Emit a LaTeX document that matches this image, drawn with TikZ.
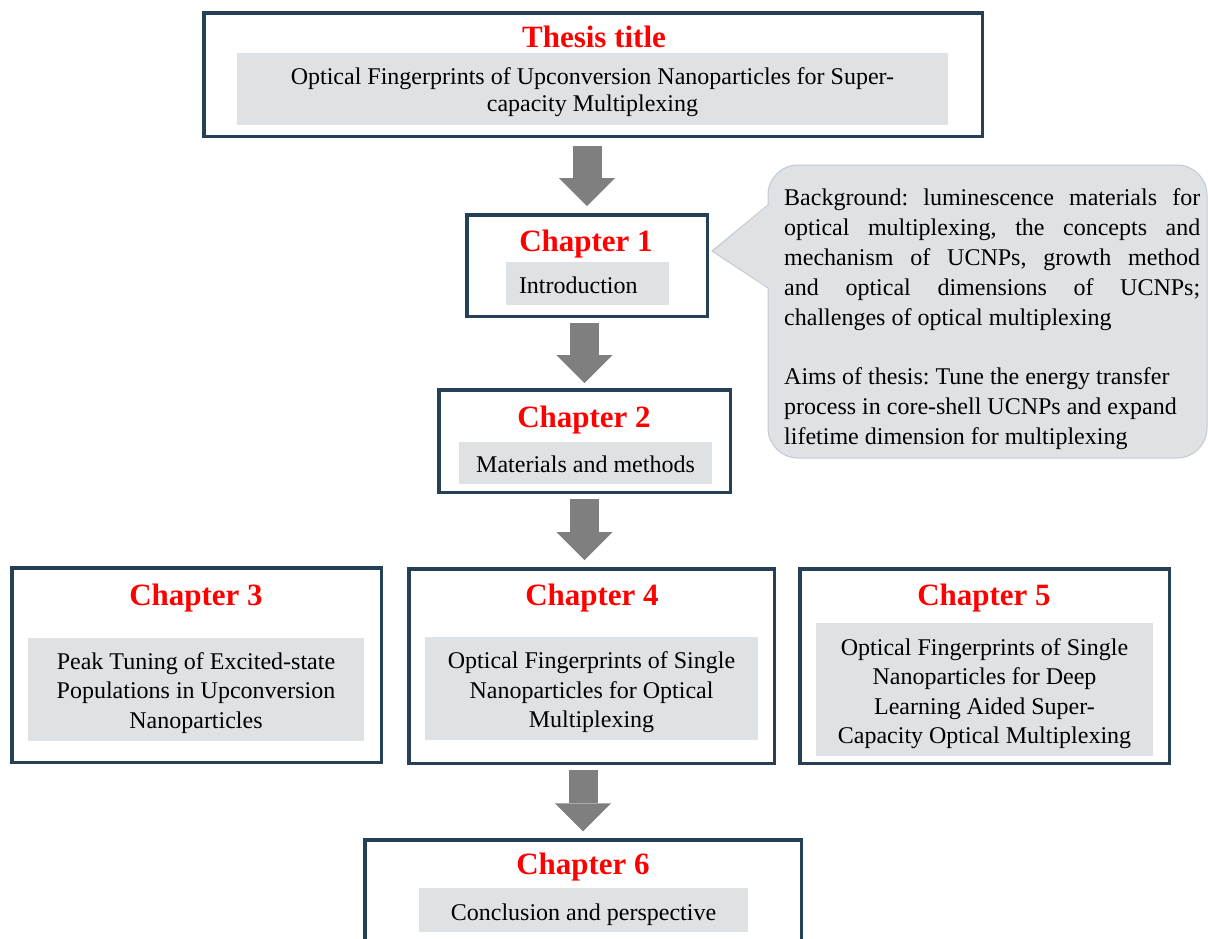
\documentclass[tikz,border=0pt]{standalone}
\usepackage{fontspec}
\setmainfont{Liberation Serif}
\usetikzlibrary{arrows.meta,calc}
\definecolor{boxline}{RGB}{38,64,86}
\definecolor{panel}{RGB}{223,226,229}
\definecolor{notefill}{RGB}{223,226,229}
\definecolor{noteline}{RGB}{196,201,207}
\definecolor{arrowgray}{RGB}{127,127,127}
\definecolor{headred}{RGB}{255,0,0}
\begin{document}
\frenchspacing
\begin{tikzpicture}[x=1pt,y=-1pt,
  chapbox/.style={draw=boxline, line width=3.5pt, inner sep=0pt, rectangle},
  panelbox/.style={fill=panel, inner sep=0pt},
  paneltext/.style={inner sep=0pt, align=center, font=\fontsize{24}{29.5}\selectfont},
  heading/.style={text=headred, font=\bfseries\fontsize{31}{31}\selectfont, inner sep=0pt, anchor=base},
  blockarrow/.style={draw=arrowgray, line width=29pt, -{Triangle[length=28pt,width=56pt,line width=0pt]}},
  notebox/.style={fill=notefill, draw=noteline, line width=1pt, rounded corners=30pt, inner sep=0pt}
]
\useasboundingbox (0,0) rectangle (1208,938);
\clip (0,0) rectangle (1208,938);
\fill[white] (0,0) rectangle (1208,938);

% chapter boxes
\node[chapbox, minimum width=778.5pt, minimum height=123.5pt] (title) at (593,74.5) {};
\node[chapbox, minimum width=240.5pt, minimum height=101.5pt] (ch1) at (587,265.5) {};
\node[chapbox, minimum width=291.5pt, minimum height=102.5pt] (ch2) at (584.5,441) {};
\node[chapbox, minimum width=369.5pt, minimum height=194.5pt] (ch3) at (196.5,665) {};
\node[chapbox, minimum width=365.5pt, minimum height=194.5pt] (ch4) at (591.5,666) {};
\node[chapbox, minimum width=369.5pt, minimum height=194.5pt] (ch5) at (984.5,666) {};
\node[chapbox, minimum width=436.5pt, minimum height=140pt] (ch6) at (583,910) {};

% grey panels
\node[panelbox, minimum width=711pt, minimum height=72pt] (title-p) at (592.5,89) {};
\node[panelbox, minimum width=163pt, minimum height=43pt] (ch1-p) at (587.5,283.5) {};
\node[panelbox, minimum width=253pt, minimum height=42pt] (ch2-p) at (585.5,463) {};
\node[panelbox, minimum width=336pt, minimum height=103pt] (ch3-p) at (196,689.5) {};
\node[panelbox, minimum width=333pt, minimum height=103pt] (ch4-p) at (591.5,688.5) {};
\node[panelbox, minimum width=337pt, minimum height=133pt] (ch5-p) at (984.5,689.5) {};
\node[panelbox, minimum width=329pt, minimum height=44pt] (ch6-p) at (583.5,910) {};

% panel texts
\node[paneltext, font=\fontsize{24}{27}\selectfont] (title-t) at ($(title-p.center)+(0,3)$)
  {Optical Fingerprints of Upconversion Nanoparticles for Super-\\capacity Multiplexing};
\node[paneltext, anchor=west] (ch1-t) at ($(ch1-p.west)+(13,2)$) {Introduction};
\node[paneltext] (ch2-t) at ($(ch2-p.center)+(0,1)$) {Materials and methods};
\node[paneltext] (ch3-t) at ($(ch3-p.center)+(0,3.5)$)
  {Peak Tuning of Excited-state\\Populations in Upconversion\\Nanoparticles};
\node[paneltext] (ch4-t) at ($(ch4-p.center)+(0,4)$)
  {Optical Fingerprints of Single\\Nanoparticles for Optical\\Multiplexing};
\node[paneltext] (ch5-t) at ($(ch5-p.center)+(0,4)$)
  {Optical Fingerprints of Single\\Nanoparticles for Deep\\Learning Aided Super-\\Capacity Optical Multiplexing};
\node[paneltext] (ch6-t) at ($(ch6-p.center)+(0,4.5)$) {Conclusion and perspective};

% headings
\node[heading] (title-h) at (594,47) {Thesis title};
\node[heading] (ch1-h) at (586,251) {Chapter 1};
\node[heading] (ch2-h) at (584,427) {Chapter 2};
\node[heading] (ch3-h) at (196,605) {Chapter 3};
\node[heading] (ch4-h) at (592,605) {Chapter 4};
\node[heading] (ch5-h) at (984,605) {Chapter 5};
\node[heading] (ch6-h) at (583,874) {Chapter 6};

% block arrows
\draw[blockarrow] ($(title.south -| ch1.north)+(0,8)$) -- ($(ch1.north)+(0,-7)$);
\draw[blockarrow] ($(ch1.south -| ch2.north)+(0,5)$) -- ($(ch2.north)+(0,-5)$);
\draw[blockarrow] ($(ch2.south)+(0,5)$) -- ($(ch4.north -| ch2.south)+(0,-7)$);
\draw[blockarrow] ($(ch4.south -| ch6.north)+(0,5)$) -- ($(ch6.north)+(0,-7)$);

% callout
\node[notebox, minimum width=439pt, minimum height=293pt] (note) at (987.5,311.5) {};
\coordinate (tip) at (712,251);
\fill[notefill] (tip) -- (769.5,205) -- (769.5,288) -- cycle;
\draw[noteline, line width=1pt] (768,205) -- (tip) -- (768,288);
\node[anchor=north west, text width=416pt, align=justify, inner sep=0pt, font=\fontsize{24}{30}\selectfont] (note-t) at (784,188.5)
  {\setlength{\parindent}{0pt}Background: luminescence materials for\linebreak
   optical multiplexing, the concepts and\linebreak
   mechanism of UCNPs, growth method\linebreak
   and optical dimensions of UCNPs;\linebreak
   challenges of optical multiplexing\par\vspace{29pt}%
   Aims of thesis: Tune the energy transfer\newline
   process in core-shell UCNPs and expand\newline
   lifetime dimension for multiplexing};
\end{tikzpicture}
\end{document}
